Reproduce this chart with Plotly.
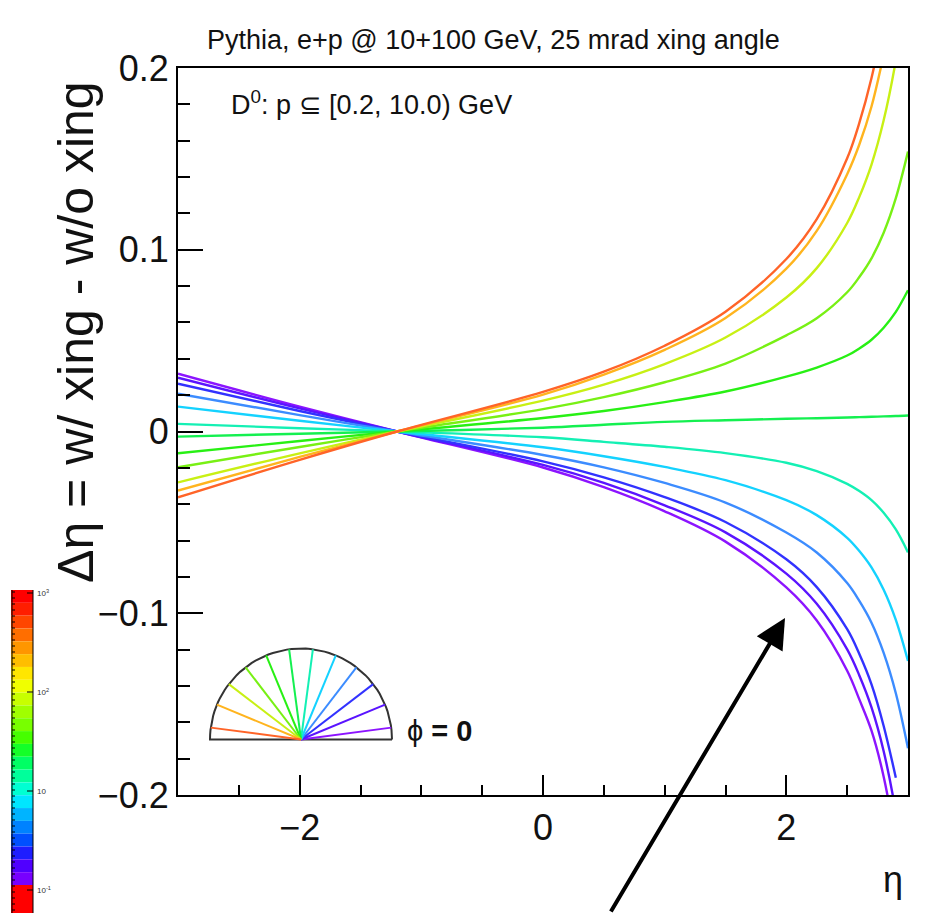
import math
import plotly.graph_objects as go

# ---------------- data ----------------
ETA = [-3.0, -2.0, -1.2, 0.0, 0.5, 1.0, 1.5, 2.0, 2.25, 2.5, 2.6, 2.7, 2.8, 2.9, 3.0]

PHI_DEG = [7.5, 22.5, 37.5, 52.5, 67.5, 82.5, 97.5, 112.5, 127.5, 142.5, 157.5, 172.5]

D_PHI_007 = [0.0318, 0.0137, 0.0, -0.0198, -0.0306, -0.0439, -0.0606, -0.0858, -0.1040, -0.1316, -0.1474, -0.1646, -0.1899, -0.2261]
D_PHI_022 = [0.0296, 0.0127, 0.0, -0.0184, -0.0283, -0.0406, -0.0555, -0.0782, -0.0948, -0.1199, -0.1342, -0.1518, -0.1759, -0.2095, -0.2551]
D_PHI_037 = [0.0263, 0.0113, 0.0, -0.0164, -0.0252, -0.0361, -0.0498, -0.0703, -0.0856, -0.1088, -0.1224, -0.1391, -0.1620, -0.1905]
D_PHI_052 = [0.0208, 0.0090, 0.0, -0.0129, -0.0197, -0.0283, -0.0391, -0.0556, -0.0666, -0.0834, -0.0932, -0.1052, -0.1218, -0.1440, -0.1743]
D_PHI_067 = [0.0137, 0.0059, 0.0, -0.0087, -0.0136, -0.0195, -0.0268, -0.0378, -0.0460, -0.0585, -0.0658, -0.0748, -0.0871, -0.1037, -0.1263]
D_PHI_082 = [0.0042, 0.0018, 0.0, -0.0032, -0.0057, -0.0084, -0.0119, -0.0172, -0.0218, -0.0288, -0.0328, -0.0378, -0.0447, -0.0539, -0.0665]
D_PHI_097 = [-0.0028, -0.0012, 0.0, 0.0021, 0.0037, 0.0053, 0.0062, 0.0070, 0.0073, 0.0077, 0.0079, 0.0081, 0.0083, 0.0085, 0.0088]
D_PHI_112 = [-0.0120, -0.0052, 0.0, 0.0074, 0.0113, 0.0162, 0.0220, 0.0302, 0.0352, 0.0418, 0.0457, 0.0505, 0.0571, 0.0658, 0.0777]
D_PHI_127 = [-0.0197, -0.0085, 0.0, 0.0123, 0.0189, 0.0271, 0.0374, 0.0529, 0.0623, 0.0766, 0.0850, 0.0953, 0.1094, 0.1284, 0.1540]
D_PHI_142 = [-0.0280, -0.0120, 0.0, 0.0170, 0.0258, 0.0371, 0.0517, 0.0737, 0.0899, 0.1147, 0.1291, 0.1469, 0.1712, 0.2041, 0.2488]
D_PHI_157 = [-0.0325, -0.0140, 0.0, 0.0203, 0.0313, 0.0449, 0.0624, 0.0896, 0.1104, 0.1416, 0.1579, 0.1788, 0.2073]
D_PHI_172 = [-0.0362, -0.0156, 0.0, 0.0218, 0.0329, 0.0472, 0.0659, 0.0949, 0.1168, 0.1503, 0.1698, 0.1945, 0.2265]

SERIES = [D_PHI_007, D_PHI_022, D_PHI_037, D_PHI_052, D_PHI_067, D_PHI_082,
          D_PHI_097, D_PHI_112, D_PHI_127, D_PHI_142, D_PHI_157, D_PHI_172]

COLORS = ["#8c14ff", "#5a14ff", "#3232ff", "#3c8cff", "#14d2ff", "#14f0b4",
          "#14f050", "#28f014", "#78f014", "#c8f014", "#ffb41e", "#ff6428"]

Y_TICKS = [-0.2, -0.1, 0.0, 0.1, 0.2]
Y_TICK_TEXT = ["\u22120.2", "\u22120.1", "0", "0.1", "0.2"]
X_TICKS = [-2, 0, 2]
X_TICK_TEXT = ["\u22122", "0", "2"]

BAND_COLORS = ["#ff0000", "#ff1e00", "#ff4600", "#ff6e00", "#ff9600", "#ffbe00", "#ffe600",
               "#f0ff00", "#c8ff00", "#a0ff00", "#78ff00", "#46ff00", "#14ff28", "#00ff64",
               "#00ff9b", "#00ffd2", "#00e6ff", "#00b4ff", "#0082ff", "#0050ff", "#1e1eff",
               "#5000ff", "#7800ff"]
BAND_LABELS = ["10<sup>3</sup>", "10<sup>2</sup>", "10", "10<sup>-1</sup>"]

# ---------------- layout geometry (page pixels; page body has an 8px margin) ----------------
OFF = 8
W, H = 941 - OFF, 913 - OFF
PL, PR, PT, PB = 178, 908, 68, 795          # plot frame in page pixels
L, T = PL - OFF, PT - OFF
R, B = W - (PR - OFF), H - (PB - OFF)
PW, PH = PR - PL, PB - PT
X0, X1 = -3.0, 3.0
Y0, Y1 = -0.2, 0.2
PX_X = PW / (X1 - X0)
PX_Y = PH / (Y1 - Y0)


def px2x(px):
    return X0 + (px - PL) / PX_X


def py2y(py):
    return Y1 - (py - PT) / PX_Y


def ppx(px):
    return (px - PL) / PW


def ppy(py):
    return (PB - py) / PH


FONT = "Liberation Sans, Arial, Helvetica, sans-serif"

fig = go.Figure()

for vals, col in zip(SERIES, COLORS):
    fig.add_trace(go.Scatter(x=ETA[:len(vals)], y=vals, mode="lines",
                             line=dict(color=col, width=2.4, shape="spline", smoothing=1.0),
                             hoverinfo="skip", showlegend=False))

# semicircle "phi" legend
CX, CY = px2x(301), py2y(739.5)
RPX = 91
arc_x = [CX + RPX / PX_X * math.cos(math.radians(a)) for a in range(0, 181, 3)]
arc_y = [CY + RPX / PX_Y * math.sin(math.radians(a)) for a in range(0, 181, 3)]
fig.add_trace(go.Scatter(x=arc_x + [arc_x[0]], y=arc_y + [arc_y[0]], mode="lines",
                         line=dict(color="#333333", width=2), hoverinfo="skip", showlegend=False))
for phi, col in zip(PHI_DEG, COLORS):
    a = math.radians(phi)
    fig.add_trace(go.Scatter(x=[CX, CX + RPX / PX_X * math.cos(a)],
                             y=[CY, CY + RPX / PX_Y * math.sin(a)], mode="lines",
                             line=dict(color=col, width=2), hoverinfo="skip", showlegend=False))

annotations = [
    dict(text="Pythia, e+p @ 10+100 GeV, 25 mrad xing angle", xref="paper", yref="paper",
         x=ppx(493), y=ppy(40), showarrow=False, font=dict(family=FONT, size=27, color="#111"),
         xanchor="center", yanchor="middle"),
    dict(text="D<sup>0</sup>: p \u2286 [0.2, 10.0) GeV", xref="paper", yref="paper",
         x=ppx(229), y=ppy(103), showarrow=False, font=dict(family=FONT, size=27, color="#111"),
         xanchor="left", yanchor="middle"),
    dict(text="\u0394\u03b7 = w/ xing - w/o xing", xref="paper", yref="paper",
         x=ppx(76), y=ppy(332), showarrow=False, textangle=-90,
         font=dict(family=FONT, size=50, color="#111"), xanchor="center", yanchor="middle"),
    dict(text="\u03b7", xref="paper", yref="paper", x=ppx(893), y=ppy(880), showarrow=False,
         font=dict(family=FONT, size=36, color="#111"), xanchor="center", yanchor="middle"),
    dict(text="\u03d5 <b>= 0</b>", xref="paper", yref="paper", x=ppx(405), y=ppy(731),
         showarrow=False, font=dict(family=FONT, size=29, color="#111"),
         xanchor="left", yanchor="middle"),
    dict(text="", x=px2x(785), y=py2y(618), xref="x", yref="y", showarrow=True,
         ax=-175, ay=295, arrowhead=2, arrowsize=1.5, arrowwidth=4, arrowcolor="black"),
]

shapes = []
# partial colour strip at bottom-left
top, bot = 590, 885
bh = (bot - top) / len(BAND_COLORS)
for i, c in enumerate(BAND_COLORS):
    shapes.append(dict(type="rect", xref="paper", yref="paper",
                       x0=ppx(11), x1=ppx(33), y0=ppy(top + (i + 1) * bh), y1=ppy(top + i * bh),
                       fillcolor=c, line=dict(width=0)))
shapes.append(dict(type="rect", xref="paper", yref="paper", x0=ppx(11), x1=ppx(33),
                   y0=ppy(913), y1=ppy(bot), fillcolor="#ff0000", line=dict(width=0)))
shapes.append(dict(type="line", xref="paper", yref="paper", x0=ppx(33), x1=ppx(33),
                   y0=ppy(913), y1=ppy(590), line=dict(color="black", width=1)))
shapes.append(dict(type="line", xref="paper", yref="paper", x0=ppx(12), x1=ppx(12),
                   y0=ppy(913), y1=ppy(590), line=dict(color="black", width=1)))
yy = 592
while yy < 913:
    shapes.append(dict(type="line", xref="paper", yref="paper", x0=ppx(12), x1=ppx(15),
                       y0=ppy(yy), y1=ppy(yy), line=dict(color="black", width=1)))
    yy += 6
for j, lab in enumerate(BAND_LABELS):
    ly = 593 + j * 99
    shapes.append(dict(type="line", xref="paper", yref="paper", x0=ppx(27), x1=ppx(33),
                       y0=ppy(ly), y1=ppy(ly), line=dict(color="black", width=1)))
    annotations.append(dict(text=lab, xref="paper", yref="paper", x=ppx(35), y=ppy(ly),
                            showarrow=False, font=dict(family=FONT, size=8, color="#333"),
                            xanchor="left", yanchor="middle"))

fig.update_layout(
    width=W, height=H, autosize=False,
    margin=dict(l=L, r=R, t=T, b=B, pad=0),
    paper_bgcolor="white", plot_bgcolor="white",
    showlegend=False,
    annotations=annotations, shapes=shapes,
    xaxis=dict(range=[X0, X1], showgrid=False, zeroline=False,
               showline=True, mirror=True, linecolor="black", linewidth=2,
               ticks="inside", ticklen=20, tickwidth=1.5, tickcolor="black",
               tickvals=X_TICKS, ticktext=X_TICK_TEXT,
               tickfont=dict(family=FONT, size=36, color="#111"),
               minor=dict(ticks="inside", ticklen=10, tickwidth=1.5, tickcolor="black",
                          dtick=0.5, tick0=0, showgrid=False)),
    yaxis=dict(range=[Y0, Y1], showgrid=False, zeroline=False,
               showline=True, mirror=True, linecolor="black", linewidth=2,
               ticks="inside", ticklen=25, tickwidth=1.5, tickcolor="black",
               tickvals=Y_TICKS, ticktext=Y_TICK_TEXT,
               tickfont=dict(family=FONT, size=36, color="#111"),
               minor=dict(ticks="inside", ticklen=12, tickwidth=1.5, tickcolor="black",
                          dtick=0.02, tick0=0, showgrid=False)),
)

fig.write_html("out.html")
